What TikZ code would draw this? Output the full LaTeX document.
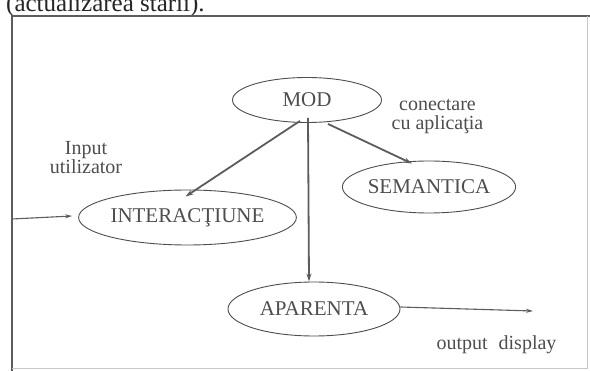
\documentclass[tikz,border=0pt]{standalone}
\usepackage{fontspec}
\setmainfont{Liberation Serif}
\usetikzlibrary{shapes.geometric,arrows.meta}
\definecolor{ink}{HTML}{4E4E4E}
\definecolor{rule}{HTML}{5C5C5C}
\tikzset{
  oval/.style={ellipse, draw=ink, line width=0.9pt, inner sep=0pt, text=ink,
    font=\fontsize{21}{24}\selectfont},
  lbl/.style={text=ink, align=center, inner sep=0pt,
    font=\fontsize{20}{19}\selectfont},
  link/.style={draw=rule, line width=1.8pt, -{Stealth[length=8pt,width=5pt]}},
  thin link/.style={draw=rule, line width=1.1pt, -{Stealth[length=7pt,width=4pt]}}
}
\begin{document}
\begin{tikzpicture}[x=1pt,y=-1pt]
\useasboundingbox (0,0) rectangle (590,371);
\clip (0,0) rectangle (590,371);
\fill[white] (0,0) rectangle (590,371);

% caption line above the frame (its upper half runs off the page)
\node[anchor=base west, inner sep=0pt, text=black!85,
  font=\fontsize{25}{26}\selectfont] (caption) at (6,12) {(actualizarea stării).};

% frame
\draw[rule, line width=2.4pt] (12,371) -- (12,16) -- (590,16);
\draw[black!22, line width=0.8pt] (587,16) -- (587,368) -- (12,368);

% components
\node[oval, minimum width=149pt, minimum height=45pt] (mod) at (307,100) {MOD};
\node[oval, minimum width=172pt, minimum height=52pt] (sem) at (429,187) {SEMANTICA};
\node[oval, minimum width=185pt, minimum height=55pt] (int) at (187.5,217.5) {INTERACŢIUNE};
\node[oval, minimum width=172pt, minimum height=54pt] (apa) at (314,309) {APARENTA};

% labels
\node[lbl] (conn) at (437.5,117) {conectare\\cu aplicaţia};
\node[lbl] (inp) at (86,158) {Input\\utilizator};
\node[lbl] (outp) at (496.5,345) {output\hspace{0.55em}display};

% free ends of the input and output arrows
\coordinate (inL) at (12,219);
\coordinate (outR) at (533,311);

% connectors
\draw[link] ([xshift=-7pt,yshift=2pt]mod.south) -- ([xshift=-2pt,yshift=-7pt]int.north);
\draw[link] ([xshift=21pt,yshift=-1pt]mod.south) -- ([xshift=-17pt,yshift=-3pt]sem.north);
\draw[link] ([xshift=1pt,yshift=5pt]mod.south) -- ([xshift=-5pt]apa.north);
\draw[thin link] (inL) -- ([xshift=-6pt,yshift=1.5pt]int.west);
\draw[thin link] ([yshift=2pt]apa.east) -- (outR);
\end{tikzpicture}
\end{document}
